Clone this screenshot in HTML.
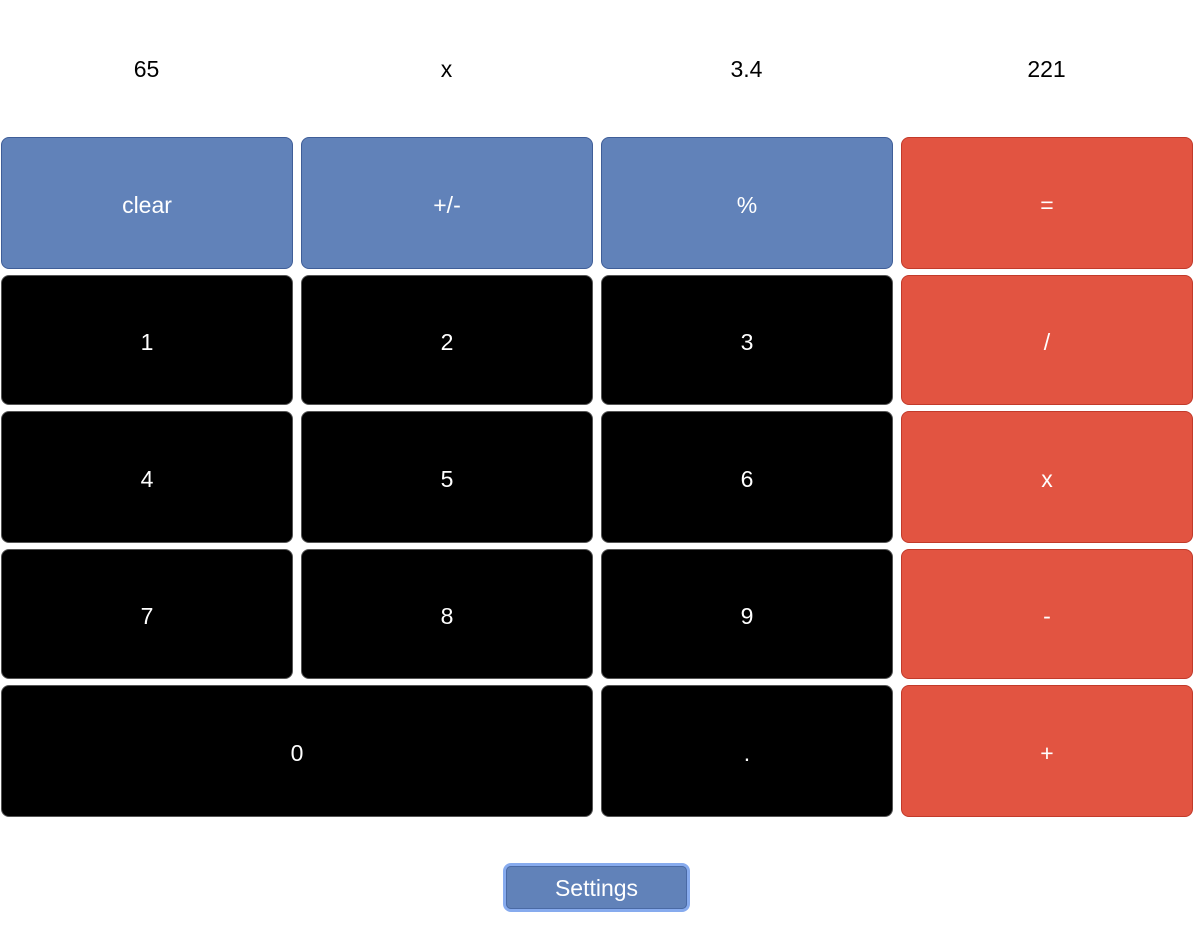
<!DOCTYPE html>
<html><head><meta charset="utf-8"><style>
body{margin:0;width:1197px;height:939px;background:#fff;font-family:"Liberation Sans",sans-serif;position:relative;overflow:hidden}
.d{position:absolute;top:56px;width:291px;text-align:center;font-size:23px;color:#000}
.b{position:absolute;box-sizing:border-box;border-radius:8px;display:flex;align-items:center;justify-content:center;color:#fff;font-size:23px;border:1.5px solid;padding-top:4px}
.f{background:#6182b9;border-color:#3f5e98}
.n{background:#000;border-color:#555}
.o{background:#e25441;border-color:#c23a2a}
#s{position:absolute;left:503px;top:863px;width:187px;height:49px;box-sizing:border-box;border:3px solid #87abee;border-radius:8px;background:#6182b9;color:#fff;font-size:23px;display:flex;align-items:center;justify-content:center;padding-top:2px}
#s:before{content:"";position:absolute;inset:0;border:1.5px solid #4a6aa5;border-radius:5px}
</style></head><body>
<div class="d" style="left:1px">65</div>
<div class="d" style="left:301px">x</div>
<div class="d" style="left:601px">3.4</div>
<div class="d" style="left:901px">221</div>

<div class="b f" style="left:1px;top:137px;width:292px;height:132px">clear</div>
<div class="b f" style="left:301px;top:137px;width:292px;height:132px">+/-</div>
<div class="b f" style="left:601px;top:137px;width:292px;height:132px">%</div>
<div class="b o" style="left:901px;top:137px;width:292px;height:132px">=</div>

<div class="b n" style="left:1px;top:275px;width:292px;height:130px">1</div>
<div class="b n" style="left:301px;top:275px;width:292px;height:130px">2</div>
<div class="b n" style="left:601px;top:275px;width:292px;height:130px">3</div>
<div class="b o" style="left:901px;top:275px;width:292px;height:130px">/</div>

<div class="b n" style="left:1px;top:411px;width:292px;height:132px">4</div>
<div class="b n" style="left:301px;top:411px;width:292px;height:132px">5</div>
<div class="b n" style="left:601px;top:411px;width:292px;height:132px">6</div>
<div class="b o" style="left:901px;top:411px;width:292px;height:132px">x</div>

<div class="b n" style="left:1px;top:549px;width:292px;height:130px">7</div>
<div class="b n" style="left:301px;top:549px;width:292px;height:130px">8</div>
<div class="b n" style="left:601px;top:549px;width:292px;height:130px">9</div>
<div class="b o" style="left:901px;top:549px;width:292px;height:130px">-</div>

<div class="b n" style="left:1px;top:685px;width:592px;height:132px">0</div>
<div class="b n" style="left:601px;top:685px;width:292px;height:132px">.</div>
<div class="b o" style="left:901px;top:685px;width:292px;height:132px">+</div>

<div id="s">Settings</div>
</body></html>
